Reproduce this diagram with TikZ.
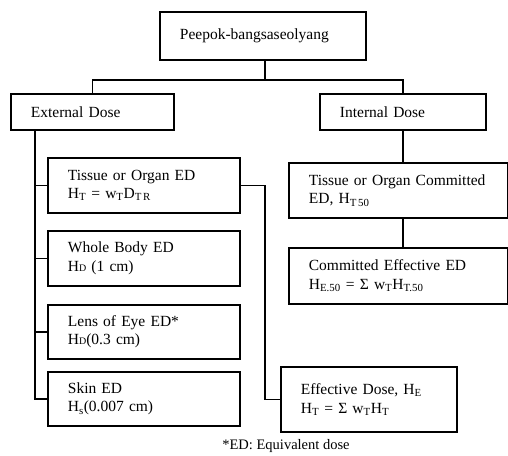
\documentclass[tikz,border=0pt]{standalone}
\usepackage{fontspec}
\setmainfont{Liberation Serif}
\usetikzlibrary{calc}
\tikzset{
  box/.style = {rectangle, draw=black, line width=1.8pt, anchor=north west, align=left,
    inner xsep=20pt, inner ysep=0pt, text width=#1,
    font=\fontsize{15.5}{18.5}\selectfont},
  link/.style = {line width=1.8pt}
}
\newcommand{\smD}{{\fontsize{10}{10}\selectfont D}}

\begin{document}
\begin{tikzpicture}[x=1pt, y=-1pt]
\useasboundingbox (0,0) rectangle (508,455);

% Top
\node[box=166pt, minimum width=206pt, minimum height=48pt] (top) at (159,11) {Peepok-bangsaseolyang};

% Level 2
\node[box=123pt, minimum width=163pt, minimum height=36pt] (extd) at (10,93) {External Dose};
\node[box=126pt, minimum width=166pt, minimum height=36pt] (intd) at (319,93) {Internal Dose};

% External branch
\node[box=152pt, minimum width=192pt, minimum height=55pt] (tored) at (47,157) {Tissue or Organ ED\\
H\textsubscript{T} = w\textsubscript{T}D\textsubscript{T\,R}};
\node[box=152pt, minimum width=192pt, minimum height=55pt] (wbed) at (47,230) {Whole Body ED\\
H\smD{} (1 cm)};
\node[box=152pt, minimum width=192pt, minimum height=54pt] (leed) at (47,304) {Lens of Eye ED*\\
H\smD(0.3 cm)};
\node[box=152pt, minimum width=192pt, minimum height=54pt] (sked) at (47,371) {Skin ED\\
H\textsubscript{s}(0.007 cm)};
\node[box=136pt, minimum width=176pt, minimum height=65pt] (effd) at (280,366) {Effective Dose, H\textsubscript{E}\\
H\textsubscript{T} = Σ w\textsubscript{T}H\textsubscript{T}};

% Internal branch
\node[box=179pt, minimum width=219pt, minimum height=55pt] (torced) at (288,162) {Tissue or Organ Committed\\
ED, H\textsubscript{T\,50}};
\node[box=179pt, minimum width=219pt, minimum height=56pt] (ceed) at (288,247) {Committed Effective ED\\
H\textsubscript{E.50} = Σ w\textsubscript{T}H\textsubscript{T.50}};

% Footnote
\node[font=\fontsize{14.5}{17}\selectfont, inner sep=0pt] (note) at (286,446) {*ED: Equivalent dose};

% ----- LINES -----
% Top to level 2
\coordinate (bus) at (265,80);
\draw[link] (top.south -| bus) -- (bus) -| (extd.north);
\draw[link] (bus) -| (intd.north);
% External spine
\coordinate (spine) at (35,129);
\draw[link] (spine) |- (sked.west);
\foreach \n in {tored, wbed, leed}
  \draw[link] (spine |- \n.west) -- (\n.west);
% Tissue to effective dose
\draw[link] (tored.east) -- ++(24,0) |- (effd.west);
% Internal chain
\draw[link] (intd.south) -- (intd.south |- torced.north);
\draw[link] (intd.south |- torced.south) -- (intd.south |- ceed.north);

\end{tikzpicture}
\end{document}
